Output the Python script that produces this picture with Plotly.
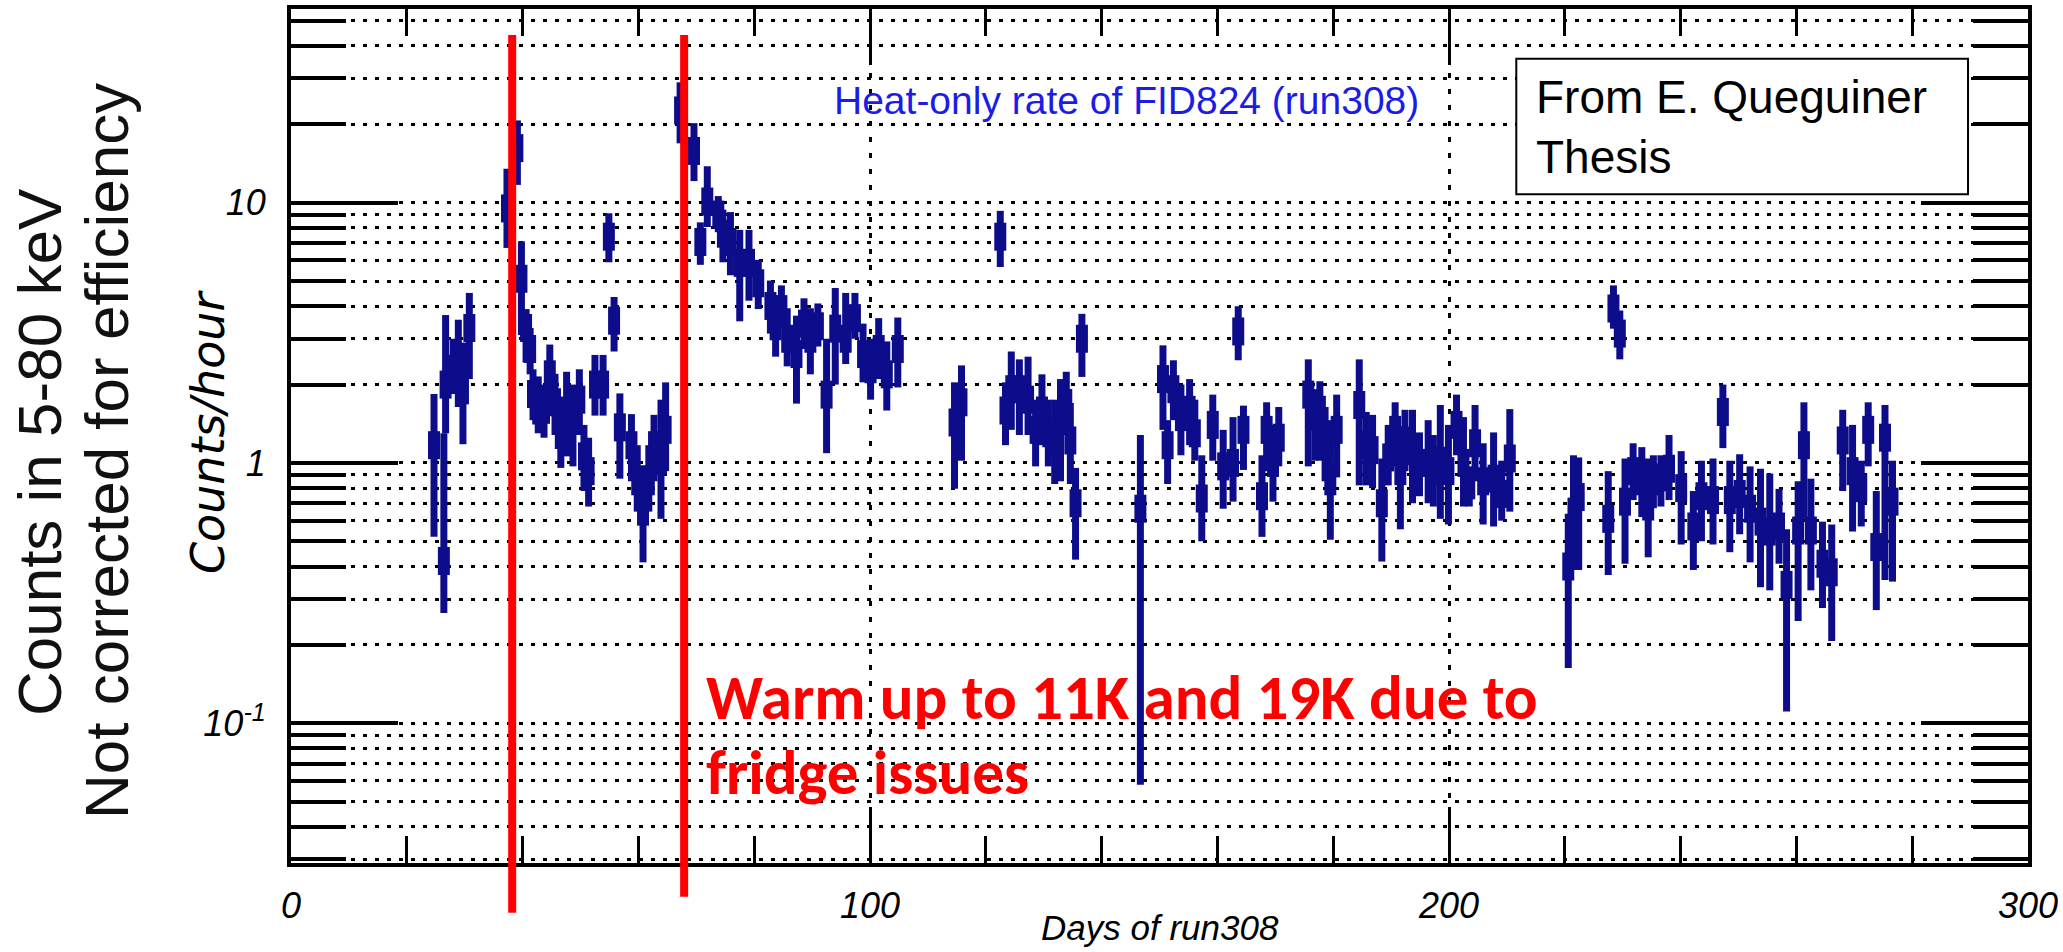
import plotly.graph_objects as go

# Heat-only event rate of detector FID824 during run308
days = [
    24.7, 26.4, 26.7, 28.0, 28.9, 29.7, 30.8,
    37.3, 39.1, 39.8, 40.6, 41.3, 41.8, 42.7, 43.7, 44.7, 45.6, 46.6, 47.6,
    48.7, 49.8, 50.6, 51.4, 52.5, 53.9, 54.9, 55.8, 56.8, 58.8, 59.8, 60.8,
    61.8, 62.7, 63.9, 64.7,
    67.2, 69.6, 70.7, 71.9, 73.8, 74.6, 75.9, 77.5, 79.1, 80.7, 82.8, 83.7,
    84.7, 85.7, 87.3, 88.6, 89.7, 91.0, 92.5, 94.0, 95.8,
    97.4, 98.8, 100.1, 101.5, 102.9, 104.8,
    114.6, 115.8, 122.5, 123.4, 124.4, 125.8, 127.3, 128.6, 129.7, 130.8,
    131.9, 132.9, 133.9, 134.6, 135.5, 136.6,
    146.7, 150.6, 151.4, 152.4, 153.7, 155.2, 156.1, 157.3, 159.2, 161.0,
    162.7, 163.6, 164.5, 167.7, 168.5, 169.6, 170.6,
    175.7, 176.9, 177.7, 178.6, 179.5, 180.6,
    184.5, 185.7, 186.8, 188.4, 189.5, 190.7, 191.6, 192.4,
    193.7, 194.9, 196.4, 197.3, 198.5, 199.9, 201.3, 202.5, 203.5, 204.5,
    205.9, 207.7, 209.1, 210.5,
    220.6, 221.5, 222.4, 227.5, 228.4, 229.5, 230.4, 231.8, 233.3, 234.4,
    235.3, 236.6, 238.0, 240.1, 242.2, 243.6, 245.6, 247.3, 248.5, 250.2,
    252.0, 253.8, 255.4, 257.0, 258.3, 260.3, 261.3, 262.5, 264.5, 266.1,
    268.0, 269.7, 271.2, 272.4, 273.8, 275.3, 276.6,
]
rate = [
    1.17, 0.42, 2.0, 2.3, 2.1, 1.9, 3.3,
    9.5, 16.2, 5.1, 3.3, 2.74, 1.84, 1.59, 1.6, 2.19, 1.71, 1.28, 1.59,
    1.5, 1.75, 1.06, 0.93, 2.0, 2.0, 7.4, 3.52, 1.37, 1.17, 0.85, 0.65,
    0.85, 1.17, 1.02, 1.34,
    22.6, 15.8, 7.06, 10.1, 9.0, 7.6, 7.06, 5.87, 5.87, 4.9, 4.01, 3.35,
    3.9, 3.0, 2.62, 3.43, 3.0, 3.35, 1.83, 3.28, 3.0,
    3.6, 2.62, 2.29, 2.74, 2.19, 2.74,
    1.43, 1.71, 7.4, 1.59, 1.92, 1.92, 1.75, 1.34, 1.59, 1.30,
    1.22, 1.45, 1.7, 1.22, 0.70, 3.0,
    0.667, 2.1, 1.17, 1.92, 1.5, 1.6, 1.3, 0.73, 1.40, 0.97,
    1.0, 3.2, 1.34, 0.745, 1.34, 1.0, 1.25,
    1.83, 1.5, 1.6, 1.17, 0.85, 1.34,
    1.67, 1.17, 1.12, 0.70, 1.05, 1.34, 0.93, 1.22,
    1.11, 1.0, 1.0, 0.93, 1.02, 0.93, 1.40, 1.0, 0.82, 1.19,
    0.85, 0.87, 0.76, 1.04,
    0.40, 0.65, 0.74, 0.61, 3.92, 3.14, 0.71, 0.93, 0.85, 0.68,
    0.85, 0.88, 0.95, 0.80, 0.57, 0.745, 0.72, 1.57, 0.72, 0.76,
    0.667, 0.595, 0.545, 0.57, 0.34, 0.55, 1.17, 0.55, 0.41, 0.38,
    1.22, 0.93, 0.80, 1.34, 0.475, 1.25, 0.71,
]
rate_low = [
    0.52, 0.265, 1.3, 1.84, 1.64, 1.18, 2.1,
    6.7, 11.7, 3.1, 2.43, 2.19, 1.46, 1.30, 1.25, 1.59, 1.28, 0.957, 1.06,
    0.97, 1.28, 0.78, 0.68, 1.52, 1.52, 5.9, 2.68, 0.87, 0.85, 0.65, 0.415,
    0.65, 0.85, 0.61, 0.93,
    16.9, 12.1, 5.77, 8.06, 7.7, 5.9, 5.26, 3.5, 4.2, 3.9, 3.14, 2.56,
    3.3, 2.35, 1.69, 2.74, 2.19, 2.8, 1.09, 2.0, 2.4,
    3.0, 2.04, 1.75, 2.1, 1.59, 1.95,
    0.796, 1.02, 5.66, 1.17, 1.34, 1.28, 1.28, 0.97, 1.17, 0.97,
    0.83, 0.85, 1.28, 0.83, 0.425, 2.14,
    0.058, 1.34, 0.83, 1.46, 1.07, 1.17, 1.02, 0.50, 1.02, 0.667,
    0.71, 2.48, 0.94, 0.52, 0.93, 0.71, 0.97,
    0.97, 1.02, 1.02, 0.85, 0.507, 0.88,
    0.82, 0.82, 0.80, 0.418, 0.82, 0.97, 0.556, 0.93,
    0.70, 0.745, 0.70, 0.68, 0.61, 0.58, 1.07, 0.68, 0.68, 0.85,
    0.58, 0.57, 0.60, 0.65,
    0.163, 0.388, 0.388, 0.371, 3.28, 2.5, 0.41, 0.72, 0.62, 0.434,
    0.67, 0.68, 0.72, 0.486, 0.388, 0.50, 0.486, 1.14, 0.454, 0.532,
    0.415, 0.333, 0.324, 0.41, 0.111, 0.247, 0.61, 0.324, 0.277, 0.207,
    0.78, 0.545, 0.57, 0.97, 0.272, 0.355, 0.35,
]
rate_high = [
    1.84, 1.3, 3.7, 3.0, 3.55, 2.9, 4.5,
    13.5, 20.7, 7.1, 3.9, 3.3, 2.29, 2.15, 2.0, 2.85, 2.2, 1.75, 2.24,
    2.0, 2.29, 1.40, 1.25, 2.6, 2.6, 9.1, 4.34, 1.85, 1.54, 1.17, 0.98,
    1.17, 1.53, 1.75, 2.04,
    29.0, 20.2, 8.4, 13.8, 10.6, 9.4, 9.2, 7.86, 7.86, 6.03, 5.02, 4.4,
    4.81, 3.93, 3.68, 4.29, 3.93, 4.1, 3.0, 4.7, 4.5,
    4.5, 3.43, 3.0, 3.6, 2.93, 3.62,
    2.04, 2.37, 9.3, 2.04, 2.68, 2.5, 2.56, 1.75, 2.19, 1.75,
    1.75, 2.1, 2.24, 1.7, 0.957, 3.74,
    1.28, 2.83, 1.46, 2.48, 2.0, 2.1, 1.75, 1.07, 1.83, 1.34,
    1.5, 4.0, 1.66, 1.07, 1.71, 1.40, 1.64,
    2.5, 1.92, 2.06, 1.64, 1.46, 1.83,
    2.5, 1.57, 1.53, 1.04, 1.40, 1.71, 1.38, 1.6,
    1.6, 1.31, 1.46, 1.28, 1.67, 1.40, 1.83, 1.5, 0.97, 1.67,
    1.19, 1.31, 1.02, 1.61,
    0.638, 1.07, 1.05, 0.93, 4.81, 3.85, 1.04, 1.19, 1.15, 1.04,
    1.07, 1.07, 1.28, 1.11, 0.78, 1.02, 1.04, 2.0, 1.02, 1.08,
    0.97, 0.95, 0.91, 0.795, 0.556, 0.85, 1.71, 0.87, 0.595, 0.58,
    1.6, 1.40, 1.02, 1.71, 0.78, 1.67, 1.02,
]

# Days at which the fridge warmed up
warmup_days = [38.2, 67.9]

x_tick_vals = [0, 100, 200, 300]
x_tick_text = ["0", "100", "200", "300"]
decade_vals = [0.1, 1, 10]
decade_text = ["10<sup>-1</sup>", "1", "10"]

NAVY = "#0d0d8c"
SANS = "Liberation Sans, Arial, sans-serif"
BOLD_SANS = "Carlito, Calibri, Lato, sans-serif"

W, H = 2063, 952
L, R, T, B = 291, 2029, 5, 863


def px(x):
    return (x - L) / (R - L)


def py(y):
    return (B - y) / (B - T)


err_plus = [h - v for h, v in zip(rate_high, rate)]
err_minus = [v - lo for v, lo in zip(rate, rate_low)]

y_lo, y_hi = -1.537, 1.744
minor_vals = [m * d for d in (0.01, 0.1, 1, 10) for m in range(2, 10)
              if 10 ** y_lo <= m * d <= 10 ** y_hi]

GRID = dict(gridcolor="black", gridwidth=3, griddash="4px,8px")

fig = go.Figure()
fig.add_trace(go.Scatter(
    x=days, y=rate, mode="markers",
    marker=dict(symbol="line-ns", size=20, color=NAVY,
                line=dict(width=12, color=NAVY)),
    error_y=dict(type="data", symmetric=False, array=err_plus,
                 arrayminus=err_minus, thickness=7, width=0, color=NAVY),
    showlegend=False, hoverinfo="skip",
))

fig.update_layout(
    width=W, height=H,
    margin=dict(l=L, r=W - R, t=T, b=H - B),
    paper_bgcolor="white", plot_bgcolor="white",
    xaxis=dict(
        range=[0, 300], tickvals=x_tick_vals, ticktext=x_tick_text,
        ticks="inside", ticklen=56, tickwidth=3, tickcolor="black",
        minor=dict(dtick=20, tick0=0, ticks="inside", ticklen=27,
                   tickwidth=3, tickcolor="black", showgrid=False),
        showline=True, linewidth=4, linecolor="black", mirror="ticks",
        showgrid=True, gridcolor="black", gridwidth=3, griddash="5px,11px",
        zeroline=False, ticklabelstandoff=8,
        tickfont=dict(family=SANS, size=36, color="black", style="italic"),
    ),
    yaxis=dict(
        type="log", range=[y_lo, y_hi],
        tickvals=decade_vals, ticktext=decade_text,
        ticks="inside", ticklen=107, tickwidth=4, tickcolor="black",
        minor=dict(tickvals=minor_vals, ticks="inside", ticklen=55,
                   tickwidth=4, tickcolor="black", showgrid=True, **GRID),
        showline=True, linewidth=4, linecolor="black", mirror="ticks",
        showgrid=True, **GRID,
        zeroline=False, ticklabelstandoff=14,
        tickfont=dict(family=SANS, size=36, color="black", style="italic"),
    ),
)

shapes = []
for d, y_end in zip(warmup_days, [913, 897]):
    shapes.append(dict(type="line", xref="x", yref="paper",
                       x0=d, x1=d, y0=py(31), y1=py(y_end),
                       line=dict(color="#ff0000", width=8)))
shapes.append(dict(type="rect", xref="paper", yref="paper",
                   x0=px(1517), x1=px(1969), y0=py(55), y1=py(191),
                   fillcolor="white", line=dict(color="black", width=2)))
fig.update_layout(shapes=shapes)

ann = [
    dict(text="Heat-only rate of FID824 (run308)", x=px(1127), y=py(97),
         font=dict(family=SANS, size=39, color="#1c1ce6")),
    dict(text="Days of run308", x=px(1161), y=py(928),
         font=dict(family=SANS, size=35, color="black", style="italic")),
    dict(text="Counts/hour", x=px(208), y=py(430), textangle=-90,
         font=dict(family="DejaVu Sans, sans-serif", size=46, color="black",
                   style="italic")),
    dict(text="Counts in 5-80 keV", x=px(40), y=py(450), textangle=-90,
         font=dict(family=SANS, size=62, color="#111111")),
    dict(text="Not corrected for efficiency", x=px(107), y=py(449),
         textangle=-90, font=dict(family=SANS, size=62, color="#111111")),
    dict(text="Warm up to 11K and 19K due to", x=px(704), y=py(697),
         xanchor="left",
         font=dict(family=BOLD_SANS, size=63, color="#ff0000",
                   weight="bold")),
    dict(text="fridge issues", x=px(704), y=py(772), xanchor="left",
         font=dict(family=BOLD_SANS, size=63, color="#ff0000",
                   weight="bold")),
    dict(text="From E. Queguiner<br>Thesis", x=px(1535), y=py(124),
         xanchor="left", align="left",
         font=dict(family=SANS, size=46, color="black")),
]
for a in ann:
    a.setdefault("xanchor", "center")
    a.setdefault("yanchor", "middle")
    a.update(xref="paper", yref="paper", showarrow=False)
fig.update_layout(annotations=ann)

fig.write_html("out.html")
